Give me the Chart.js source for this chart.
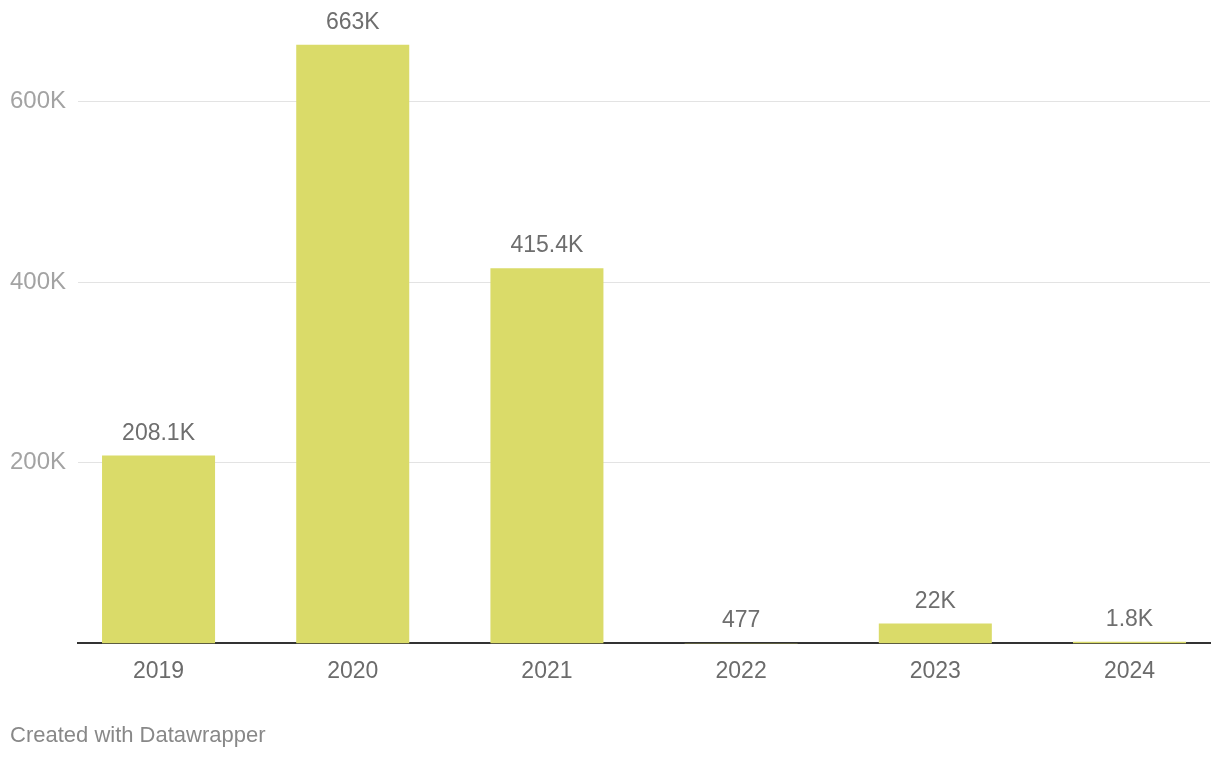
<!DOCTYPE html>
<html>
<head>
<meta charset="utf-8">
<script src="https://cdn.jsdelivr.net/npm/chart.js@4"></script>
<style>
  html, body { margin: 0; padding: 0; background: #fff; }
  #wrap { position: relative; width: 1220px; height: 758px; }
  #footer {
    position: absolute; left: 10px; top: 724px;
    font: 22px/22px "Liberation Sans", Arial, sans-serif;
    color: #888;
  }
</style>
</head>
<body>
<div id="wrap">
  <canvas id="chart" width="1220" height="758"></canvas>
  <div id="footer">Created with Datawrapper</div>
</div>
<script>
const years = ["2019", "2020", "2021", "2022", "2023", "2024"]
const totals = [208100, 663000, 415400, 477, 22000, 1800]
const yTicks = [200000, 400000, 600000]

const FONT = "'Liberation Sans', Arial, sans-serif"

const fmt = v => v >= 1000 ? (+(v / 1000).toFixed(1)) + "K" : String(v)

// labels above each bar
const valueLabels = {
  id: "valueLabels",
  afterDatasetsDraw(chart) {
    const ctx = chart.ctx
    const meta = chart.getDatasetMeta(0)
    ctx.save()
    ctx.font = "23px " + FONT
    ctx.fillStyle = "#6e6e6e"
    ctx.textAlign = "center"
    ctx.textBaseline = "alphabetic"
    meta.data.forEach((bar, i) => {
      ctx.fillText(fmt(totals[i]), bar.x, bar.y - 16)
    })
    ctx.restore()
  }
}

new Chart(document.getElementById("chart"), {
  type: "bar",
  data: {
    datasets: [{
      data: totals.map((v, i) => ({ x: i, y: v })),
      backgroundColor: "#dadb69",
      borderWidth: 0,
      barPercentage: 0.582,
      categoryPercentage: 1
    }]
  },
  options: {
    responsive: false,
    animation: false,
    layout: { padding: { top: 20, left: 10, right: 10, bottom: 59 } },
    plugins: {
      legend: { display: false },
      tooltip: { enabled: false }
    },
    scales: {
      x: {
        type: "linear",
        offset: false,
        min: -0.4145,
        max: 5.4145,
        afterBuildTicks: axis => { axis.ticks = years.map((_, i) => ({ value: i })) },
        grid: { display: false, drawTicks: false, offset: false },
        border: { display: true, color: "#333", width: 2 },
        ticks: {
          padding: 14,
          color: "#6b6b6b",
          font: { family: FONT, size: 23 },
          callback: v => years[v],
          maxRotation: 0,
          autoSkip: false
        }
      },
      y: {
        min: 0,
        max: 690000,
        afterBuildTicks: axis => { axis.ticks = yTicks.map(v => ({ value: v })) },
        grid: { color: "#e3e3e3", lineWidth: 1, drawTicks: false },
        border: { display: false },
        ticks: {
          padding: 6,
          crossAlign: "far",
          color: "#a3a3a3",
          font: { family: FONT, size: 24 },
          callback: v => (v / 1000) + "K"
        }
      }
    }
  },
  plugins: [valueLabels]
})
</script>
</body>
</html>
